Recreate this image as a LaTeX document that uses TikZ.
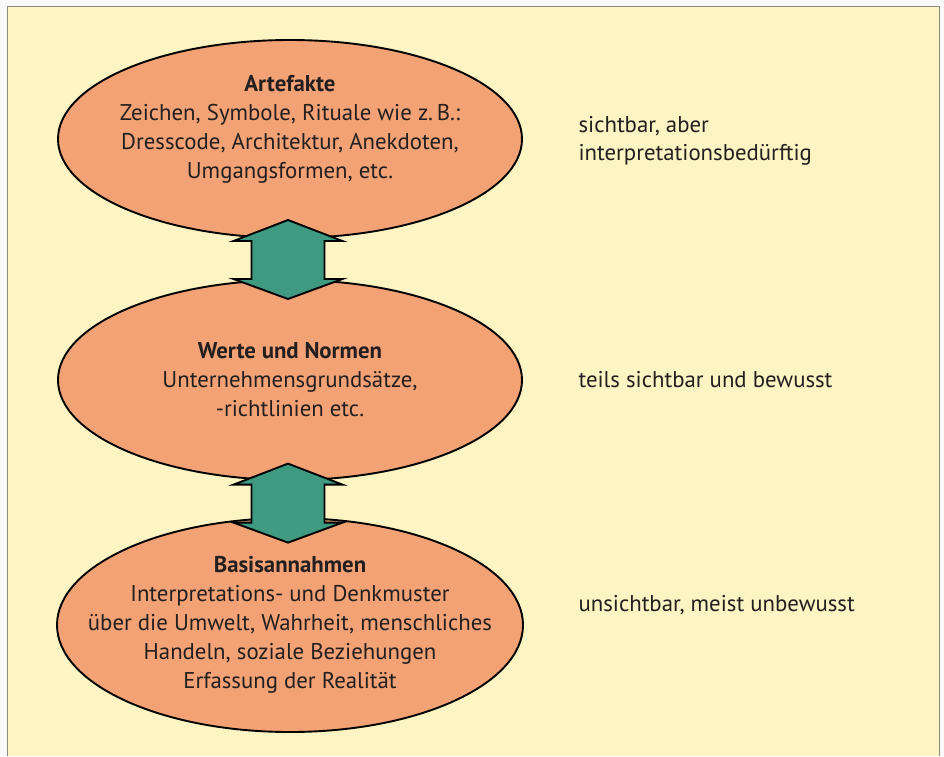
\documentclass[tikz,border=0pt]{standalone}
\usepackage{fontspec}
\setmainfont{PT Sans}
\usetikzlibrary{shapes.geometric}
\definecolor{bgyellow}{HTML}{FCF4C2}
\definecolor{ellorange}{HTML}{F2A274}
\definecolor{arrgreen}{HTML}{3E9A80}
\definecolor{txt}{HTML}{231F20}
\definecolor{framegray}{HTML}{8A8A80}
\begin{document}
\begin{tikzpicture}[x=1pt,y=-1pt,
  layer/.style={ellipse, draw=black, line width=1.9pt, fill=ellorange, inner sep=0pt},
  inside/.style={align=center, text=txt, font=\fontsize{22.8}{29}\selectfont},
  side/.style={anchor=west, align=left, text=txt, font=\fontsize{22.8}{28}\selectfont},
  connarrow/.style={draw=black, line width=1.9pt, fill=arrgreen, line join=miter}]
\useasboundingbox (0,0) rectangle (944,756);
\fill[white!95!gray] (0,0) rectangle (944,756);
\fill[bgyellow] (7,6) rectangle (939,756);
\draw[framegray, line width=1pt] (7,756) -- (7,6) -- (939,6) -- (939,756);

\node[layer, minimum width=464pt, minimum height=198pt] (e1) at (290,139) {};
\node[layer, minimum width=464pt, minimum height=200pt] (e2) at (290,380) {};
\node[layer, minimum width=466pt, minimum height=214pt] (e3) at (290,625) {};

\node[inside] (t1) at (290,129) {\textbf{Artefakte}\\Zeichen, Symbole, Rituale wie z.\,B.:\\Dresscode, Architektur, Anekdoten,\\Umgangsformen, etc.};
\node[inside] (t2) at (290,380) {\textbf{Werte und Normen}\\Unternehmensgrundsätze,\\-richtlinien etc.};
\node[inside] (t3) at (290,625) {\textbf{Basisannahmen}\\Interpretations- und Denkmuster\\über die Umwelt, Wahrheit, menschliches\\Handeln, soziale Beziehungen\\Erfassung der Realität};

\path (e1.south) -- (e2.north) coordinate[pos=0.5] (m1);
\path (e2.south) -- (e3.north) coordinate[pos=0.6] (m2);
\foreach \m in {m1,m2}{
  \draw[connarrow, shift={(\m)}] (-2,-39) -- (52.5,-18) -- (34.5,-18) -- (34.5,20) -- (52.5,20) -- (-2,40) -- (-56.5,20) -- (-38.5,20) -- (-38.5,-18) -- (-56.5,-18) -- cycle;
}

\node[side] (s1) at (575,141) {sichtbar, aber\\interpretationsbedürftig};
\node[side] (s2) at (575,380) {teils sichtbar und bewusst};
\node[side] (s3) at (575,605) {unsichtbar, meist unbewusst};
\end{tikzpicture}
\end{document}
